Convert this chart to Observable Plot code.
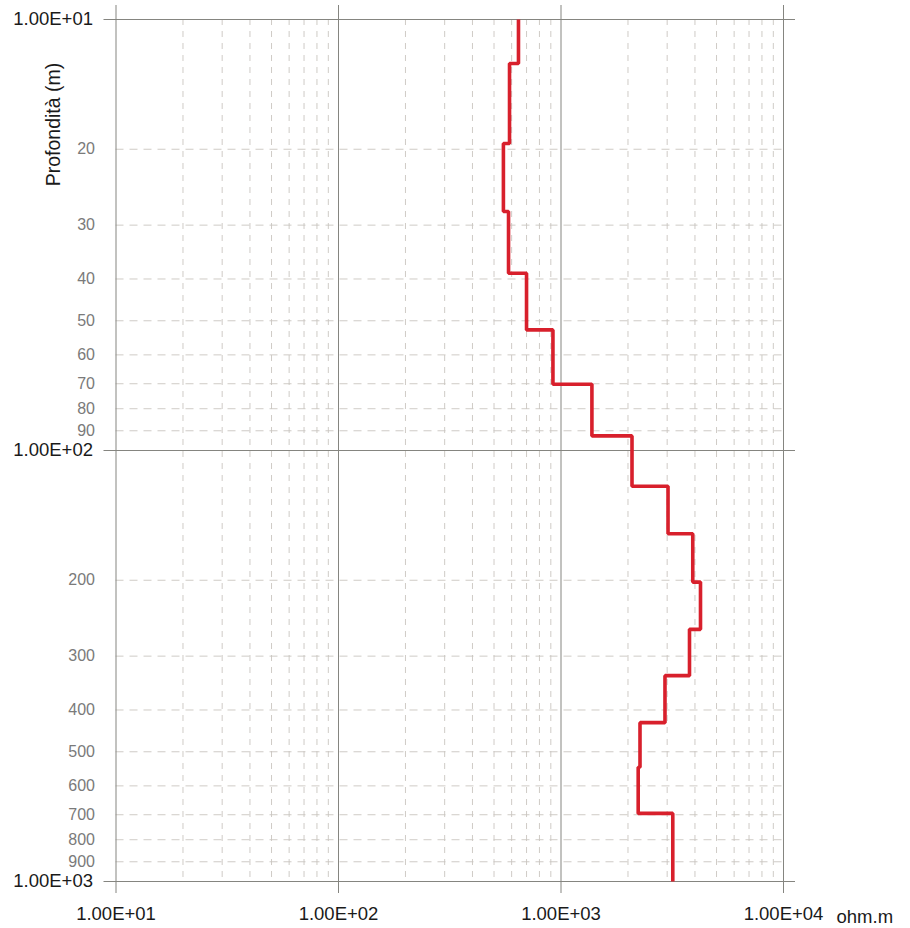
<!DOCTYPE html>
<html>
<head>
<meta charset="utf-8">
<script src="https://cdn.jsdelivr.net/npm/d3@7"></script>
<script src="https://cdn.jsdelivr.net/npm/@observablehq/plot@0.6"></script>
<style>
  html, body { margin: 0; padding: 0; background: #ffffff; }
  #chart svg { display: block; }
</style>
</head>
<body>
<div id="chart"></div>
<script>
// Layer model: resistivity (ohm.m) and bottom depth (m) of each layer
const startDepth = 10;
const layerBottom = [12.65, 19.4, 27.9, 38.8, 52.5, 70.2, 92.5, 121, 156, 202, 260, 333, 428, 543, 695, 1000];
const resistivity = [644, 587, 551, 581, 700, 920, 1377, 2085, 3027, 3910, 4236, 3780, 2933, 2265, 2223, 3180];

// Axis ticks
const majorX = [10, 100, 1000, 10000];
const minorX = [20, 30, 40, 50, 60, 70, 80, 90, 200, 300, 400, 500, 600, 700, 800, 900, 2000, 3000, 4000, 5000, 6000, 7000, 8000, 9000];
const majorY = [10, 100, 1000];
const minorY = [20, 30, 40, 50, 60, 70, 80, 90, 200, 300, 400, 500, 600, 700, 800, 900];

const yLabel = "Profondità (m)";
const xUnit = "ohm.m";

// Build the step path vertices from the layers
const pts = [];
resistivity.forEach((r, i) => {
  const top = i === 0 ? startDepth : layerBottom[i - 1];
  pts.push({x: r, y: top});
  pts.push({x: r, y: layerBottom[i]});
});

const sci = d => {
  const e = Math.round(Math.log10(d));
  return "1.00E+" + String(e).padStart(2, "0");
};

const font = "Liberation Sans, Arial, Helvetica, sans-serif";

const chart = Plot.plot({
  width: 910,
  height: 928,
  marginLeft: 115.5,
  marginRight: 127,
  marginTop: 19,
  marginBottom: 47,
  style: {fontFamily: font, background: "#ffffff"},
  x: {type: "log", domain: [10, 10000]},
  y: {type: "log", domain: [10, 1000], reverse: true},
  marks: [
    // minor dashed grid
    Plot.ruleX(minorX, {stroke: "#c9c5bf", strokeWidth: 0.9, strokeDasharray: "6,6"}),
    Plot.ruleY(minorY, {stroke: "#c9c5bf", strokeWidth: 0.9, strokeDasharray: "8,6"}),
    // major solid grid lines, extending beyond the frame
    Plot.ruleX(majorX, {stroke: "#858580", strokeWidth: 1, insetTop: -14, insetBottom: -12}),
    Plot.ruleY(majorY, {stroke: "#858580", strokeWidth: 1, insetLeft: -12, insetRight: -12}),
    // axes
    Plot.axisY(majorY, {tickSize: 0, tickPadding: 23, tickFormat: sci, fontSize: 18.5, fill: "#1a1a1a", label: null}),
    Plot.axisY(minorY, {tickSize: 0, tickPadding: 21, tickFormat: d => String(d), fontSize: 16, fill: "#7a7a7a", label: null}),
    Plot.axisX(majorX, {tickSize: 0, tickPadding: 25, tickFormat: sci, fontSize: 18.5, fill: "#1a1a1a", label: null}),
    // step profile
    Plot.line(pts, {x: "x", y: "y", stroke: "#d8202c", strokeWidth: 3.6, strokeLinejoin: "miter", strokeLinecap: "butt"}),
    // labels
    Plot.text([yLabel], {frameAnchor: "top-left", textAnchor: "middle", lineAnchor: "middle", rotate: -90, dx: -62, dy: 105, fontSize: 19.5, fill: "#1a1a1a"}),
    Plot.text([xUnit], {frameAnchor: "bottom-right", textAnchor: "start", lineAnchor: "middle", dx: 53, dy: 36, fontSize: 18.5, fill: "#1a1a1a"})
  ]
});

document.getElementById("chart").appendChild(chart);
</script>
</body>
</html>
